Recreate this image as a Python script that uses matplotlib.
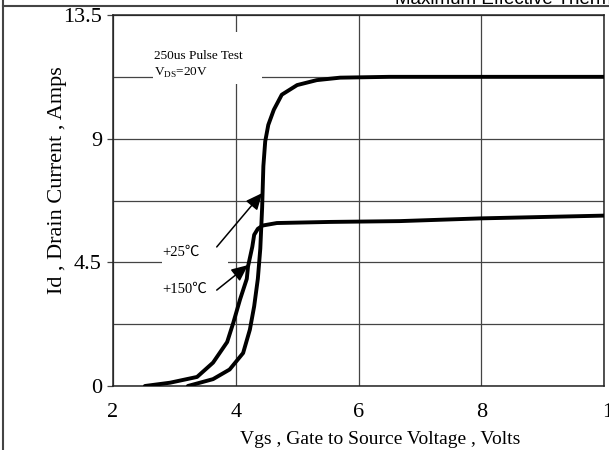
import matplotlib
matplotlib.use("Agg")
import matplotlib.pyplot as plt
from matplotlib.patches import Rectangle
from matplotlib.lines import Line2D
from matplotlib.transforms import ScaledTranslation

# ===== data =====
vgs_25 = [3.22, 3.63, 3.90, 4.12, 4.23, 4.30, 4.36, 4.40, 4.43, 4.45, 4.48,
          4.53, 4.62, 4.75, 5.00, 5.32, 5.70, 6.50, 8.00, 10.00]
id_25 = [0.0, 0.25, 0.6, 1.2, 2.05, 2.9, 3.9, 5.0, 6.5, 8.0, 8.9,
         9.5, 10.05, 10.6, 10.95, 11.13, 11.22, 11.25, 11.25, 11.25]

vgs_150 = [2.52, 2.93, 3.37, 3.63, 3.86, 3.96, 4.07, 4.18, 4.20, 4.27, 4.30,
           4.36, 4.44, 4.67, 5.53, 6.67, 8.00, 10.00]
id_150 = [0.0, 0.12, 0.33, 0.85, 1.6, 2.3, 3.15, 3.9, 4.35, 5.07, 5.5,
          5.72, 5.84, 5.93, 5.97, 6.0, 6.1, 6.2]

x_ticks = [2, 4, 6, 8, 10]
y_ticks = [0, 4.5, 9, 13.5]
y_minor = [2.25, 6.75, 11.25]
y_ticklabels = ["0", "4.5", "9", "13.5"]

SERIF = ["Liberation Serif", "Noto Sans CJK SC", "DejaVu Serif"]
plt.rcParams["font.family"] = SERIF
plt.rcParams["mathtext.fontset"] = "custom"
plt.rcParams["mathtext.rm"] = "Liberation Serif"
GRID = "#444444"
LW = 2.8

fig = plt.figure(figsize=(6.09, 4.5), dpi=100)
ax = fig.add_axes([113/609, 64/450, 491/609, 371/450])

ax.plot(vgs_25, id_25, color="black", lw=LW, solid_joinstyle="round",
        solid_capstyle="round", zorder=3)
ax.plot(vgs_150, id_150, color="black", lw=LW, solid_joinstyle="round",
        solid_capstyle="round", zorder=3)

ax.set_xlim(2, 10)
ax.set_ylim(0, 13.5)
ax.set_xticks(x_ticks)
ax.set_yticks(y_ticks)
ax.set_yticklabels(y_ticklabels)
ax.set_yticks(y_minor, minor=True)
ax.set_axisbelow(True)
ax.grid(True, which="major", color=GRID, lw=0.9)
ax.grid(True, which="minor", axis="y", color=GRID, lw=0.9)
ax.tick_params(axis="x", length=0, pad=12, labelsize=16)
ax.tick_params(axis="y", which="major", length=4, width=0.9, color=GRID,
               pad=4, labelsize=16)
ax.tick_params(axis="y", which="minor", length=0)
for s in ax.spines.values():
    s.set_linewidth(1.1)
    s.set_color("#222222")

# the last x label sits past the page edge in the scan
last = ax.get_xticklabels()[-1]
last.set_transform(last.get_transform() + ScaledTranslation(0.09, 0, fig.dpi_scale_trans))

ax.set_xlabel("Vgs , Gate to Source Voltage , Volts", fontsize=14, va="center")
ax.xaxis.set_label_coords(0.544, -0.143)
ax.set_ylabel("Id , Drain Current , Amps", fontsize=16, va="center")
ax.yaxis.set_label_coords(-0.114, 0.555)

# white boxes behind the labels (gridlines are broken there)
ax.add_patch(Rectangle((2.65, 10.98), 1.78, 1.9, facecolor="white",
                       edgecolor="none", zorder=1.5))
ax.add_patch(Rectangle((2.80, 4.1), 1.07, 1.4, facecolor="white",
                       edgecolor="none", zorder=1.5))

ax.text(2.67, 12.0, "250us Pulse Test", fontsize=9.5, va="center", zorder=4)
ax.text(2.67, 11.39, r"V$_{\mathrm{DS}}$=20V", fontsize=9.5, va="center", zorder=4)
ax.text(2.80, 4.88, "+25℃", fontsize=10.5, va="center", zorder=4)
ax.text(2.80, 3.53, "+150℃", fontsize=10.5, va="center", zorder=4)

arrow = dict(arrowstyle="-|>,head_length=1.0,head_width=0.45", color="black",
             lw=1.1, shrinkA=0, shrinkB=0)
ax.annotate("", xy=(4.43, 7.02), xytext=(3.69, 5.06), arrowprops=arrow, zorder=4)
ax.annotate("", xy=(4.20, 4.40), xytext=(3.69, 3.49), arrowprops=arrow, zorder=4)

# page frame and cut-off heading from the datasheet
fig.add_artist(Line2D([3/609, 3/609], [0, 1], color="#444444", lw=1.5))
fig.add_artist(Line2D([3/609, 1], [1 - 6/450, 1 - 6/450], color="#444444", lw=1.5))
fig.text(395/609, 1 - 4.5/450, "Maximum Effective Thermal Impedance",
         family="Liberation Sans", fontsize=13.5, va="baseline")

fig.savefig("out.png", dpi=100)
